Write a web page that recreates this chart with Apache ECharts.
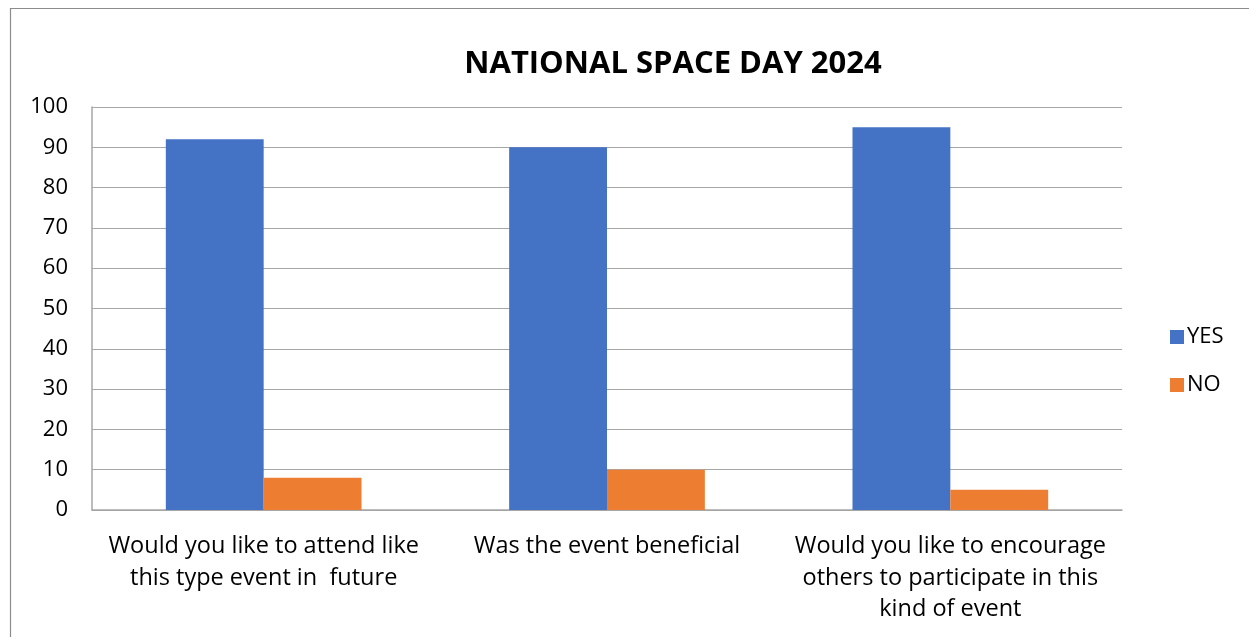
<!DOCTYPE html>
<html><head><meta charset="utf-8">
<script src="https://cdn.jsdelivr.net/npm/echarts@6/dist/echarts.min.js"></script>
<style>html,body{margin:0;padding:0;background:#fff}#c{width:1249px;height:637px}</style>
</head><body><div id="c"></div>
<script>
const categories = ["Would you like to attend like\nthis type event in  future", "Was the event beneficial", "Would you like to encourage\nothers to participate in this\nkind of event"];
const yesValues = [92, 90, 95];
const noValues = [8, 10, 5];
const FONT = '"Open Sans", Lato, sans-serif';
const chart = echarts.init(document.getElementById('c'));
chart.setOption({
  animation: false,
  textStyle: {fontFamily: FONT},
  title: {text: 'NATIONAL SPACE DAY 2024', left: 668, top: 44, textAlign: 'center',
    textStyle: {fontSize: 31, fontWeight: 'bold', color: '#000', fontFamily: FONT}},
  graphic: [{type: 'rect', shape: {x: 10.5, y: 8.5, width: 1260, height: 660}, style: {fill: 'none', stroke: '#8c8c8c', lineWidth: 1.2}, silent: true}],
  legend: {orient: 'vertical', left: 1165, top: 321, itemGap: 26, itemWidth: 14, itemHeight: 14,
    icon: 'rect', textStyle: {fontSize: 22, color: '#000', fontFamily: FONT, padding: [0,0,0,-2]},
    data: ['YES', 'NO']},
  grid: {left: 92, right: 127, top: 107, bottom: 127, containLabel: false},
  xAxis: {type: 'category', data: categories,
    axisLine: {lineStyle: {color: '#a6a6a6', width: 1.5}}, axisTick: {show: false},
    axisLabel: {fontSize: 23.5, color: '#000', lineHeight: 31.5, margin: 21, interval: 0, fontFamily: FONT}},
  yAxis: {type: 'value', min: 0, max: 100, interval: 10,
    axisLine: {show: true, lineStyle: {color: '#a6a6a6', width: 1.5}},
    splitLine: {lineStyle: {color: '#a6a6a6', width: 1.2}},
    axisLabel: {fontSize: 22, color: '#000', margin: 24, fontFamily: FONT}},
  series: [
    {name: 'YES', type: 'bar', data: yesValues, itemStyle: {color: '#4472C4'}, barGap: '0%', barCategoryGap: '43%'},
    {name: 'NO', type: 'bar', data: noValues, itemStyle: {color: '#ED7D31'}}
  ]
});
</script></body></html>
